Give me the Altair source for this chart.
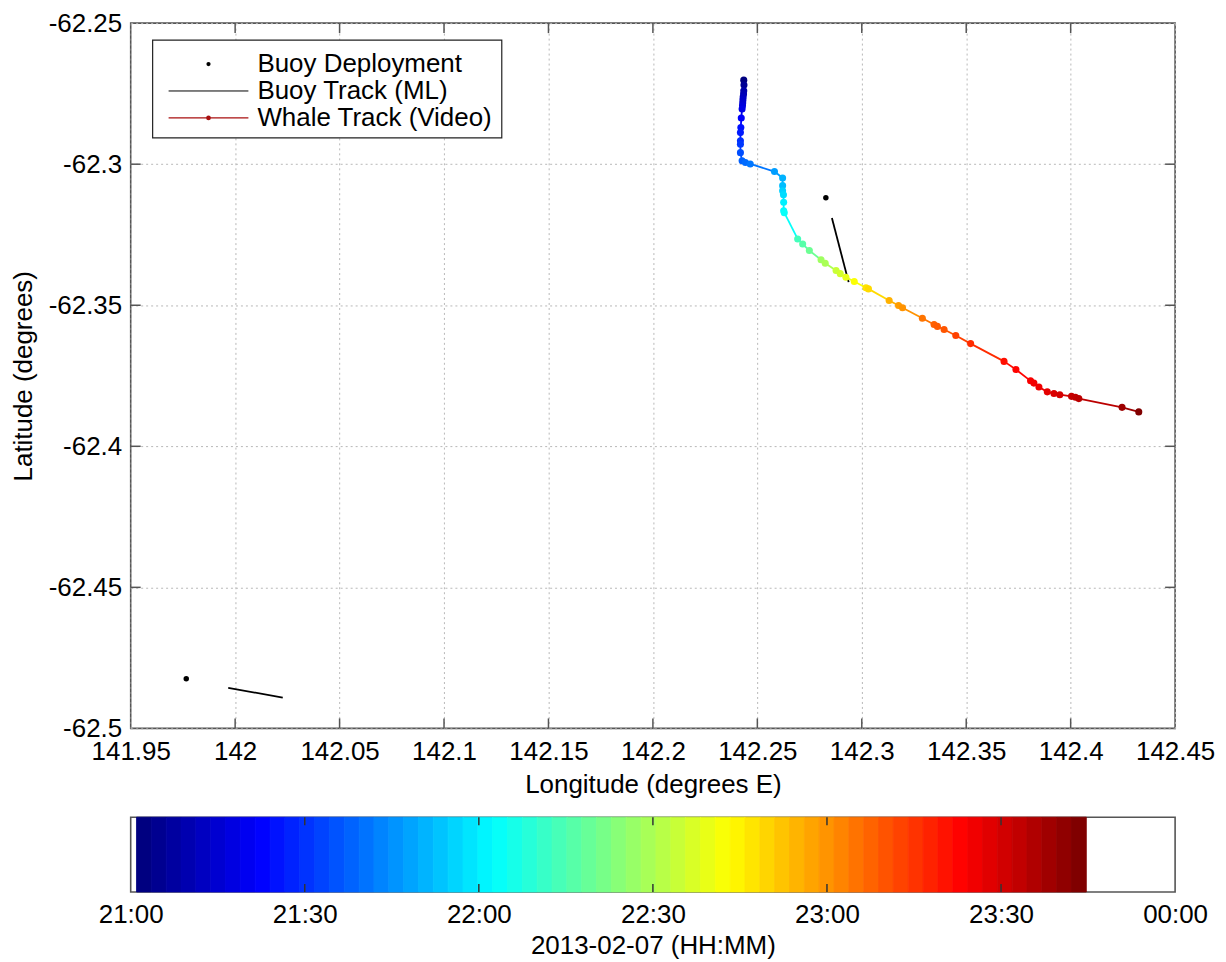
import altair as alt
import pandas as pd
import numpy as np

# ---------------- data ----------------
# whale track positions (video) and time in minutes after 21:00 on 2013-02-07
whale_lon = [142.2435, 142.2436, 142.2435, 142.2434, 142.2432, 142.2431, 142.2430, 142.2429,
             142.2427, 142.2423, 142.2421, 142.2419, 142.2419, 142.2419, 142.2419, 142.2427,
             142.2443, 142.2466, 142.2582, 142.2621, 142.2621, 142.2621, 142.2625, 142.2626,
             142.2626, 142.2629, 142.2693, 142.2717, 142.2749, 142.2805, 142.2825, 142.2877,
             142.2897, 142.2924, 142.2964, 142.3020, 142.3032, 142.3131, 142.3176, 142.3195,
             142.3290, 142.3346, 142.3362, 142.3394, 142.3450, 142.3521, 142.3681, 142.3738,
             142.3808, 142.3824, 142.3848, 142.3888, 142.3920, 142.3948, 142.4004, 142.4023,
             142.4039, 142.4246, 142.4326]
whale_lat = [-62.2702, -62.2719, -62.2740, -62.2751, -62.2762, -62.2772, -62.2783, -62.2793,
             -62.2804, -62.2836, -62.2870, -62.2888, -62.2917, -62.2929, -62.2959, -62.2988,
             -62.2994, -62.2999, -62.3026, -62.3049, -62.3076, -62.3094, -62.3108, -62.3135,
             -62.3165, -62.3172, -62.3265, -62.3283, -62.3306, -62.3339, -62.3351, -62.3377,
             -62.3388, -62.3401, -62.3416, -62.3438, -62.3442, -62.3483, -62.3501, -62.3509,
             -62.3546, -62.3568, -62.3575, -62.3586, -62.3607, -62.3636, -62.3699, -62.3728,
             -62.3768, -62.3776, -62.3790, -62.3807, -62.3813, -62.3817, -62.3823, -62.3826,
             -62.3831, -62.3862, -62.3878]
whale_min = [1.0, 4.3, 7.6, 9.2, 10.8, 12.5, 14.1, 15.8,
             17.4, 20.7, 24.0, 25.6, 28.9, 30.5, 33.8, 37.1,
             38.7, 40.4, 46.9, 50.2, 51.8, 55.1, 56.8, 60.0,
             61.7, 63.3, 73.2, 76.4, 79.7, 87.9, 89.6, 94.5,
             96.1, 99.4, 102.7, 107.6, 109.2, 115.8, 119.1, 120.7,
             125.6, 128.9, 129.7, 130.6, 133.8, 137.1, 142.0, 143.7,
             145.3, 146.1, 147.0, 148.6, 150.2, 151.1, 153.5, 154.3,
             155.2, 160.1, 164.7]

deploy_lon = [142.2828, 141.9766]
deploy_lat = [-62.3119, -62.4824]

buoy_track_id = ["A", "A", "B", "B"]
buoy_track_lon = [142.2857, 142.2937, 141.9967, 142.0228]
buoy_track_lat = [-62.3191, -62.3418, -62.4856, -62.4891]

x_ticks = [141.95, 142.0, 142.05, 142.1, 142.15, 142.2, 142.25, 142.3, 142.35, 142.4, 142.45]
y_ticks = [-62.5, -62.45, -62.4, -62.35, -62.3, -62.25]
cbar_ticks = [0, 30, 60, 90, 120, 150, 180]
cbar_labels = ["21:00", "21:30", "22:00", "22:30", "23:00", "23:30", "00:00"]
legend_labels = ["Buoy Deployment", "Buoy Track (ML)", "Whale Track (Video)"]

# jet colormap key colours
jet_colors = ["#000080", "#0000ff", "#00ffff", "#ffff00", "#ff0000", "#800000"]
jet_pos = [0.0, 0.125, 0.375, 0.625, 0.875, 1.0]

# ---------------- layout ----------------
FONT = "Liberation Sans"
FS = 26
W, H = 1047, 707
CB_H = 75
TICK = 10

tmin, tmax = whale_min[0], whale_min[-1]
cscale = alt.Scale(domain=[tmin + p * (tmax - tmin) for p in jet_pos],
                   range=jet_colors, interpolate="rgb")

xscale = alt.Scale(domain=[141.95, 142.45], nice=False, zero=False)
yscale = alt.Scale(domain=[-62.5, -62.25], nice=False, zero=False)

xaxis = alt.Axis(values=x_ticks, labelExpr="format(datum.value, '.5~g')",
                 title="Longitude (degrees E)", grid=True, gridDash=[2, 3],
                 gridColor="#b8b8b8", gridWidth=1, labelPadding=10, titlePadding=7)
yaxis = alt.Axis(values=y_ticks, labelExpr="'-' + format(abs(datum.value), '.4~g')",
                 title="Latitude (degrees)", grid=True, gridDash=[2, 3],
                 gridColor="#b8b8b8", gridWidth=1, labelPadding=9, titlePadding=12)


def X(f):
    return alt.X(f, type="quantitative", scale=xscale, axis=xaxis)


def Y(f):
    return alt.Y(f, type="quantitative", scale=yscale, axis=yaxis)


whale = pd.DataFrame({"lon": whale_lon, "lat": whale_lat, "t": whale_min})
seg = pd.DataFrame({"lon": whale_lon[:-1], "lat": whale_lat[:-1],
                    "lon2": whale_lon[1:], "lat2": whale_lat[1:],
                    "t": whale_min[:-1]})
deploy = pd.DataFrame({"lon": deploy_lon, "lat": deploy_lat})
btrack = pd.DataFrame({"id": buoy_track_id, "lon": buoy_track_lon, "lat": buoy_track_lat})
xt = pd.DataFrame({"lon": x_ticks[1:-1]})
yt = pd.DataFrame({"lat": y_ticks[1:-1]})
one = pd.DataFrame({"a": [0]})

seg_layer = alt.Chart(seg).mark_rule(strokeWidth=1.8).encode(
    x=X("lon"), y=Y("lat"), x2="lon2", y2="lat2",
    color=alt.Color("t:Q", scale=cscale, legend=None))
pts_layer = alt.Chart(whale).mark_circle(size=50, opacity=1).encode(
    x=X("lon"), y=Y("lat"), color=alt.Color("t:Q", scale=cscale, legend=None))
btrack_layer = alt.Chart(btrack).mark_line(color="black", strokeWidth=1.8).encode(
    x=X("lon"), y=Y("lat"), detail="id:N")
deploy_layer = alt.Chart(deploy).mark_circle(color="black", size=30, opacity=1).encode(
    x=X("lon"), y=Y("lat"))

tick_color = "#555555"
xt_bot = alt.Chart(xt).mark_rule(color=tick_color, strokeWidth=1.5).encode(
    x=X("lon"), y=alt.value(H - TICK), y2=alt.value(H))
xt_top = alt.Chart(xt).mark_rule(color=tick_color, strokeWidth=1.5).encode(
    x=X("lon"), y=alt.value(0), y2=alt.value(TICK))
yt_left = alt.Chart(yt).mark_rule(color=tick_color, strokeWidth=1.5).encode(
    y=Y("lat"), x=alt.value(0), x2=alt.value(TICK))
yt_right = alt.Chart(yt).mark_rule(color=tick_color, strokeWidth=1.5).encode(
    y=Y("lat"), x=alt.value(W - TICK), x2=alt.value(W))

# legend (drawn inside plot, upper left)
LX0, LX1, LY0, LY1 = 22, 372, 17, 115
row_y = [41, 68, 95]
leg_box = alt.Chart(one).mark_rect(fill="white", stroke="#222222", strokeWidth=1.2).encode(
    x=alt.value(LX0), x2=alt.value(LX1), y=alt.value(LY0), y2=alt.value(LY1))
leg_dot = alt.Chart(one).mark_circle(color="black", size=18, opacity=1).encode(
    x=alt.value(78), y=alt.value(row_y[0]))
leg_line = alt.Chart(one).mark_rule(color="black", strokeWidth=1).encode(
    x=alt.value(38), x2=alt.value(118), y=alt.value(row_y[1]))
leg_red = alt.Chart(one).mark_rule(color="#a80f0f", strokeWidth=1.2).encode(
    x=alt.value(38), x2=alt.value(118), y=alt.value(row_y[2]))
leg_red_dot = alt.Chart(one).mark_circle(color="#a80f0f", size=22, opacity=1).encode(
    x=alt.value(78), y=alt.value(row_y[2]))
leg_texts = [
    alt.Chart(pd.DataFrame({"label": [lab]})).mark_text(
        align="left", baseline="middle", font=FONT, fontSize=FS, color="black").encode(
        x=alt.value(127), y=alt.value(yy), text="label:N")
    for lab, yy in zip(legend_labels, row_y)
]

main = alt.layer(
    btrack_layer, seg_layer, pts_layer, deploy_layer,
    xt_bot, xt_top, yt_left, yt_right,
    leg_box, leg_dot, leg_line, leg_red, leg_red_dot, *leg_texts
).properties(width=W, height=H)

# ---------------- colorbar ----------------
n_bands = 64
edges = np.linspace(tmin, tmax, n_bands + 1)
band_vals = tmin + np.arange(n_bands) / (n_bands - 1) * (tmax - tmin)
bands = pd.DataFrame({"start": edges[:-1], "end": edges[1:], "val": band_vals})
cbx = alt.Scale(domain=[0, 180], nice=False, zero=False)
label_arr = "[" + ",".join("'%s'" % s for s in cbar_labels) + "]"
cb_axis = alt.Axis(values=cbar_ticks, labelExpr=label_arr + "[round(datum.value/30)]",
                   title="2013-02-07 (HH:MM)", grid=False, labelPadding=10, titlePadding=5)

cb_rect = alt.Chart(bands).mark_rect(strokeWidth=0.8).encode(
    x=alt.X("start:Q", scale=cbx, axis=cb_axis), x2="end",
    y=alt.value(0), y2=alt.value(CB_H),
    color=alt.Color("val:Q", scale=cscale, legend=None),
    stroke=alt.Stroke("val:Q", scale=cscale, legend=None))
cbt = pd.DataFrame({"t": cbar_ticks[1:-1]})
cb_tick_top = alt.Chart(cbt).mark_rule(color="#333333", strokeWidth=1.5).encode(
    x=alt.X("t:Q", scale=cbx, axis=cb_axis), y=alt.value(0), y2=alt.value(8))
cb_tick_bot = alt.Chart(cbt).mark_rule(color="#333333", strokeWidth=1.5).encode(
    x=alt.X("t:Q", scale=cbx, axis=cb_axis), y=alt.value(CB_H - 8), y2=alt.value(CB_H))

cbar = alt.layer(cb_rect, cb_tick_top, cb_tick_bot).properties(width=W, height=CB_H)

chart = alt.vconcat(main, cbar, spacing=89, bounds="flush").properties(
    padding={"left": 1, "top": 0, "right": 2, "bottom": 0}
).configure_view(
    stroke="#555555", strokeWidth=1.6
).configure_axis(
    labelFont=FONT, titleFont=FONT, labelFontSize=FS, titleFontSize=FS,
    titleFontWeight="normal", labelColor="black", titleColor="black",
    domain=False, ticks=False, labelFlush=False, labelOverlap=False
)

chart.save("out.html", embed_options={"renderer": "svg", "actions": False})
